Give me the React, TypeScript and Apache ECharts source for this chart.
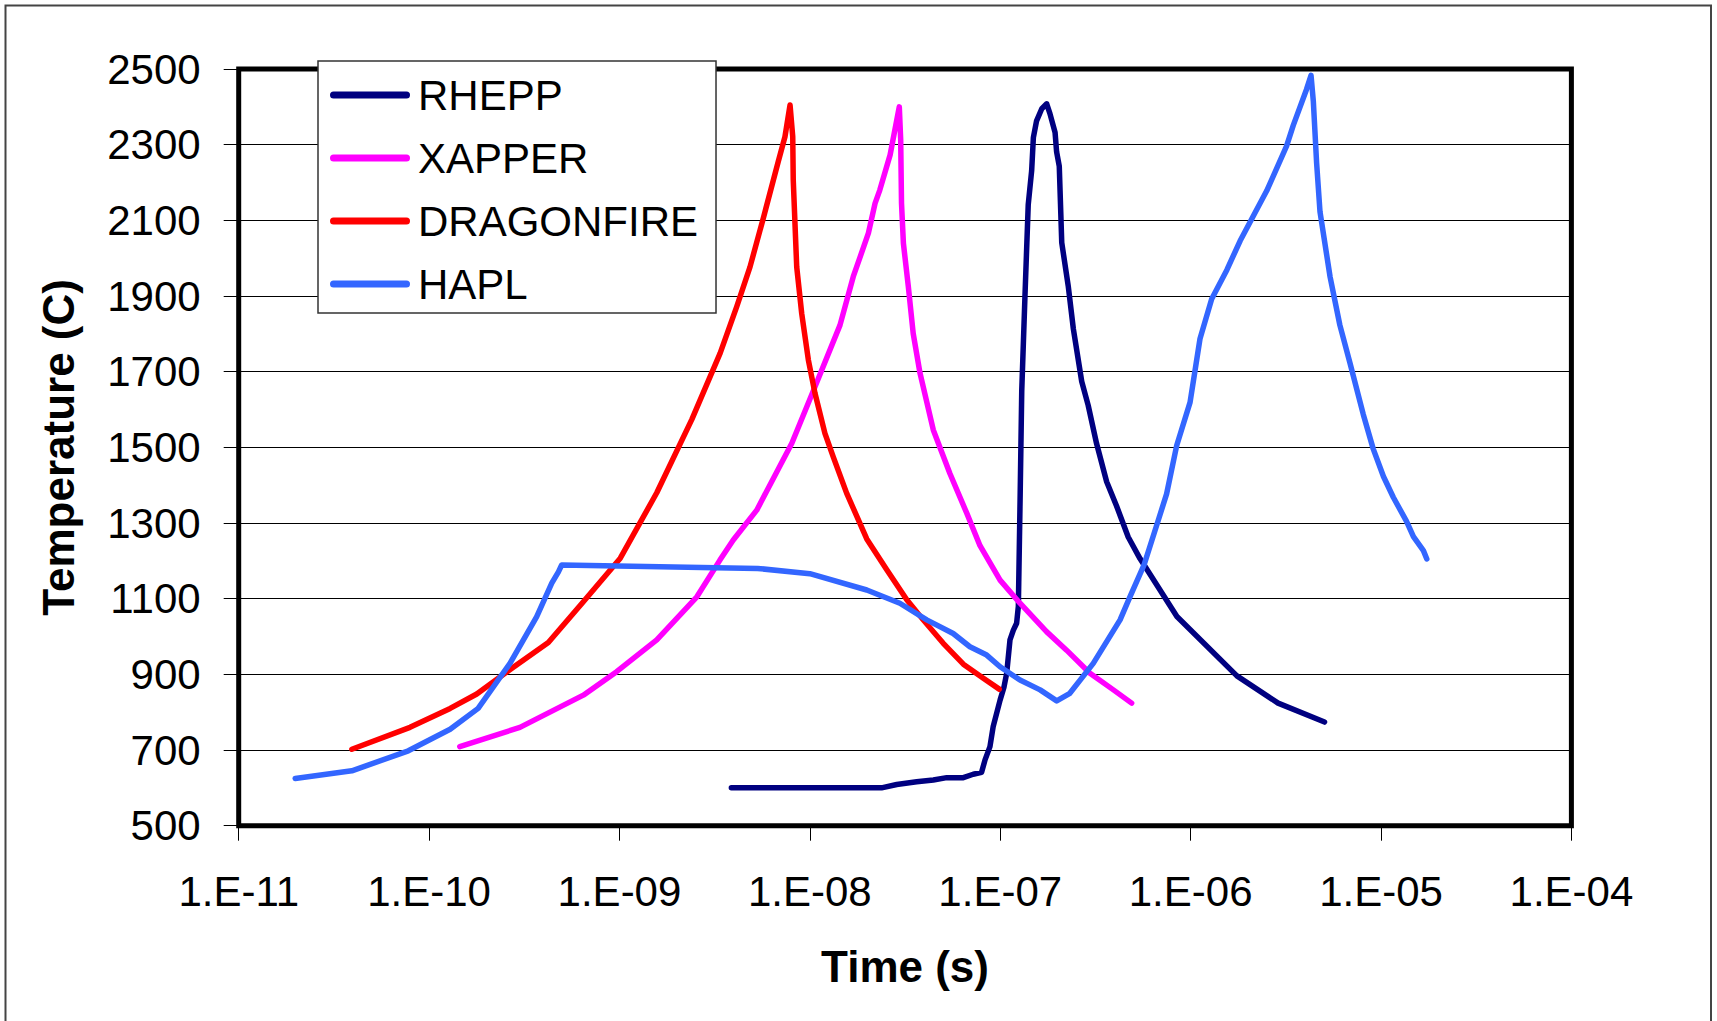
import React, { useEffect, useRef } from "react";
import * as echarts from "echarts";

// ---- Data (time in seconds, temperature in °C) ----
const SERIES_NAMES = ["RHEPP", "XAPPER", "DRAGONFIRE", "HAPL"];
const SERIES_COLORS = ["#000080", "#FF00FF", "#FF0000", "#3366FF"];

const RHEPP_TIME = [
  3.87e-9, 8.9e-9, 2.38e-8, 2.86e-8, 3.64e-8, 4.45e-8, 5.24e-8, 6.4e-8, 7.21e-8, 7.98e-8,
  8.32e-8, 8.83e-8, 9.18e-8, 9.98e-8, 1.047e-7, 1.081e-7, 1.125e-7, 1.172e-7, 1.219e-7, 1.245e-7,
  1.271e-7, 1.297e-7, 1.349e-7, 1.403e-7, 1.462e-7, 1.493e-7, 1.552e-7, 1.652e-7, 1.754e-7, 1.824e-7,
  1.941e-7, 1.977e-7, 2.042e-7, 2.104e-7, 2.275e-7, 2.421e-7, 2.679e-7, 2.897e-7, 3.206e-7, 3.622e-7,
  4.083e-7, 4.7e-7, 5.42e-7, 8.47e-7, 1.75e-6, 2.88e-6, 5.05e-6,
];
const RHEPP_TEMP = [
  600, 600, 600, 609, 616, 621, 627, 627, 636, 641,
  674, 709, 762, 832, 867, 903, 991, 1017, 1035, 1080,
  1358, 1649, 1902, 2142, 2231, 2319, 2363, 2395, 2408, 2382,
  2332, 2281, 2243, 2041, 1927, 1813, 1674, 1611, 1510, 1409,
  1345, 1263, 1206, 1053, 896, 824, 774,
];

const XAPPER_TIME = [
  1.45e-10, 3.0e-10, 6.46e-10, 9.66e-10, 1.57e-9, 2.55e-9, 3.37e-9, 3.96e-9, 5.26e-9, 8.04e-9,
  1.064e-8, 1.44e-8, 1.69e-8, 2.03e-8, 2.2e-8, 2.33e-8, 2.64e-8, 2.95e-8, 3.0e-8, 3.03e-8,
  3.1e-8, 3.29e-8, 3.49e-8, 3.79e-8, 4.45e-8, 5.44e-8, 6.67e-8, 7.83e-8, 9.98e-8, 1.27e-7,
  1.75e-7, 2.23e-7, 2.96e-7, 3.93e-7, 4.9e-7,
];
const XAPPER_TEMP = [
  709, 760, 845, 907, 991, 1105, 1202, 1255, 1334, 1511,
  1660, 1823, 1951, 2066, 2145, 2180, 2273, 2400, 2312, 2145,
  2039, 1925, 1801, 1696, 1546, 1431, 1326, 1240, 1149, 1088,
  1013, 964, 903, 859, 824,
];

const DRAGONFIRE_TIME = [
  3.93e-11, 7.94e-11, 1.29e-10, 1.78e-10, 2.77e-10, 4.23e-10, 6.46e-10, 1.01e-9, 1.57e-9, 2.4e-9,
  3.38e-9, 4.13e-9, 4.85e-9, 5.69e-9, 6.82e-9, 7.4e-9, 7.87e-9, 8.13e-9, 8.18e-9, 8.53e-9,
  9.06e-9, 9.82e-9, 1.064e-8, 1.2e-8, 1.327e-8, 1.56e-8, 1.99e-8, 2.54e-8, 3.23e-8, 3.94e-8,
  5.02e-8, 6.4e-8, 8.15e-8, 9.88e-8,
];
const DRAGONFIRE_TEMP = [
  702, 760, 810, 848, 919, 984, 1092, 1207, 1380, 1574,
  1749, 1872, 1977, 2105, 2255, 2321, 2405, 2321, 2207, 1977,
  1854, 1731, 1643, 1537, 1475, 1379, 1258, 1176, 1097, 1044,
  982, 927, 890, 861,
];

const HAPL_TIME = [
  1.98e-11, 3.93e-11, 7.78e-11, 1.29e-10, 1.81e-10, 2.66e-10, 3.67e-10, 4.41e-10, 4.78e-10, 4.97e-10,
  5.32e-9, 1.0e-8, 1.99e-8, 2.97e-8, 4.11e-8, 5.66e-8, 6.93e-8, 8.49e-8, 9.98e-8, 1.27e-7,
  1.62e-7, 1.98e-7, 2.32e-7, 3.08e-7, 4.26e-7, 4.8e-7, 5.7e-7, 6.71e-7, 7.48e-7, 8.45e-7,
  9.93e-7, 1.12e-6, 1.29e-6, 1.55e-6, 1.82e-6, 2.51e-6, 3.19e-6, 3.46e-6, 4.06e-6, 4.29e-6,
  4.41e-6, 4.59e-6, 4.78e-6, 5.4e-6, 6.08e-6, 6.87e-6, 8.07e-6, 9.1e-6, 1.03e-5, 1.16e-5,
  1.36e-5, 1.48e-5, 1.67e-5, 1.74e-5,
];
const HAPL_TEMP = [
  625, 645, 698, 755, 810, 929, 1052, 1141, 1171, 1189,
  1180, 1166, 1123, 1088, 1044, 1008, 973, 951, 920, 885,
  859, 830, 850, 929, 1044, 1105, 1190, 1302, 1377, 1505,
  1619, 1787, 1892, 1969, 2046, 2178, 2296, 2351, 2446, 2483,
  2415, 2251, 2123, 1951, 1823, 1723, 1587, 1496, 1423, 1368,
  1305, 1264, 1227, 1205,
];

const X_MIN = 1e-11;
const X_MAX = 1e-4;
const Y_MIN = 500;
const Y_MAX = 2500;
const Y_STEP = 200;

const X_TITLE = "Time (s)";
const Y_TITLE = "Temperature (C)";

const FONT = '"Liberation Sans", Arial, Helvetica, sans-serif';

const SERIES_DATA = [
  [RHEPP_TIME, RHEPP_TEMP],
  [XAPPER_TIME, XAPPER_TEMP],
  [DRAGONFIRE_TIME, DRAGONFIRE_TEMP],
  [HAPL_TIME, HAPL_TEMP],
];

function formatExp(v: number): string {
  const e = Math.round(Math.log10(v));
  const sign = e < 0 ? "-" : "+";
  const a = Math.abs(e);
  return "1.E" + sign + (a < 10 ? "0" + a : String(a));
}

export default function App() {
  const ref = useRef<HTMLDivElement>(null);

  useEffect(() => {
    if (!ref.current) return;
    const chart = echarts.init(ref.current, null, { renderer: "svg" });

    const series = SERIES_NAMES.map((name, i) => {
      const [ts, temps] = SERIES_DATA[i];
      return {
        name,
        type: "line",
        data: ts.map((t, j) => [t, temps[j]]),
        symbol: "none",
        showSymbol: false,
        smooth: false,
        clip: false,
        lineStyle: { color: SERIES_COLORS[i], width: 5.5, cap: "round", join: "round" },
        itemStyle: { color: SERIES_COLORS[i] },
        emphasis: { disabled: true },
        z: 3 + i,
      };
    });

    chart.setOption({
      animation: false,
      backgroundColor: "#ffffff",
      textStyle: { fontFamily: FONT },
      grid: {
        left: 238.7,
        right: 145.6,
        top: 69,
        bottom: 195.3,
        show: true,
        borderColor: "#000",
        borderWidth: 5,
        backgroundColor: "transparent",
        containLabel: false,
      },
      legend: {
        show: true,
        data: SERIES_NAMES,
        orient: "vertical",
        left: 318,
        top: 61,
        padding: [13, 18, 8, 12],
        itemGap: 21,
        itemWidth: 80,
        itemHeight: 7,
        icon: "path://M3.5,0H76.5A3.5,3.5,0,0,1,76.5,7H3.5A3.5,3.5,0,0,1,3.5,0Z",
        backgroundColor: "#ffffff",
        borderColor: "#333333",
        borderWidth: 1.5,
        selectedMode: false,
        textStyle: { fontSize: 42, color: "#000", fontFamily: FONT, padding: [0, 0, 0, 3] },
        itemStyle: { borderWidth: 0 },
        z: 10,
      },
      xAxis: {
        type: "log",
        logBase: 10,
        min: X_MIN,
        max: X_MAX,
        name: X_TITLE,
        nameLocation: "middle",
        nameGap: 119,
        nameTextStyle: { fontSize: 44, fontWeight: "bold", color: "#000", fontFamily: FONT },
        axisLine: { show: false },
        axisTick: { show: true, length: 15, inside: false, lineStyle: { color: "#000", width: 1 } },
        minorTick: { show: false },
        splitLine: { show: false },
        axisLabel: {
          fontSize: 42,
          color: "#000",
          margin: 45,
          fontFamily: FONT,
          formatter: (v: number) => formatExp(v),
        },
      },
      yAxis: {
        type: "value",
        min: Y_MIN,
        max: Y_MAX,
        interval: Y_STEP,
        name: Y_TITLE,
        nameLocation: "middle",
        nameGap: 158,
        nameRotate: 90,
        nameTextStyle: { fontSize: 44, fontWeight: "bold", color: "#000", fontFamily: FONT },
        axisLine: { show: false },
        axisTick: { show: true, length: 15, inside: false, lineStyle: { color: "#000", width: 1 } },
        splitLine: { show: true, lineStyle: { color: "#000", width: 1 } },
        axisLabel: {
          fontSize: 42,
          color: "#000",
          margin: 38,
          fontFamily: FONT,
          formatter: (v: number) => String(Math.round(v)),
        },
      },
      graphic: [
        {
          type: "rect",
          silent: true,
          z: -10,
          shape: { x: 5.5, y: 5.5, width: 1705.5, height: 1040 },
          style: { fill: "none", stroke: "#444444", lineWidth: 2 },
        },
      ],
      series,
    });

    return () => {
      chart.dispose();
    };
  }, []);

  return (
    <div
      ref={ref}
      style={{ position: "absolute", left: 0, top: 0, width: 1717, height: 1021, background: "#fff" }}
    />
  );
}
